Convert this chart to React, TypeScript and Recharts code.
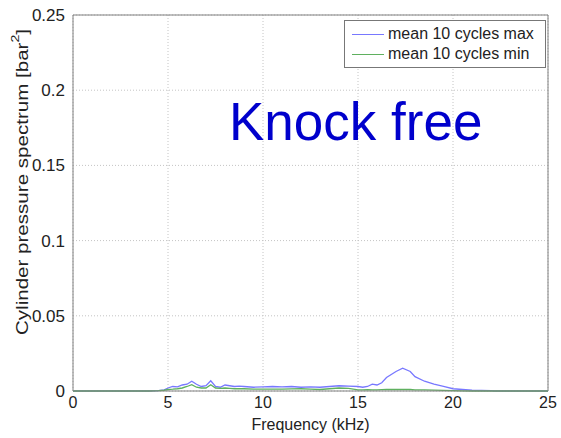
import { LineChart, Line, XAxis, YAxis, CartesianGrid, ReferenceLine } from "recharts"

const freqs = [
  0, 4, 4.5, 4.8, 5, 5.25, 5.5, 5.75, 6, 6.25, 6.5, 6.75, 7, 7.25, 7.5, 7.75, 8, 8.25, 8.5, 8.75, 9, 9.5, 10,
  10.5, 11, 11.5, 12, 12.5, 13, 13.5, 14, 14.5, 15, 15.25, 15.5, 15.75, 16, 16.25, 16.5, 16.75, 17, 17.35,
  17.75, 18, 18.5, 19, 19.5, 20, 20.5, 21, 22, 22.2, 25,
]

const maxVals = [
  0, 0, 0.0003, 0.0008, 0.002, 0.003, 0.0028, 0.004, 0.0045, 0.0065, 0.0045, 0.003, 0.0035, 0.0068, 0.003,
  0.0025, 0.004, 0.0035, 0.003, 0.0032, 0.003, 0.0025, 0.0028, 0.003, 0.0028, 0.003, 0.0025, 0.0028, 0.0025,
  0.003, 0.0035, 0.0032, 0.003, 0.0025, 0.003, 0.0045, 0.004, 0.0055, 0.009, 0.011, 0.013, 0.0152, 0.013,
  0.0095, 0.0065, 0.0045, 0.003, 0.0015, 0.001, 0.0005, 0.0003, 0, 0,
]

const minVals = [
  0, 0, 0.0002, 0.0005, 0.001, 0.0012, 0.0015, 0.002, 0.003, 0.0042, 0.0025, 0.002, 0.002, 0.0042, 0.002,
  0.0018, 0.002, 0.0018, 0.0015, 0.0016, 0.0015, 0.0013, 0.0012, 0.0012, 0.0012, 0.0014, 0.0015, 0.0012, 0.001,
  0.0015, 0.002, 0.0018, 0.0008, 0.0008, 0.0009, 0.0008, 0.0008, 0.0009, 0.001, 0.001, 0.001, 0.0011, 0.001,
  0.0008, 0.0007, 0.0006, 0.0004, 0.0002, 0.0001, 0, 0, 0, 0,
]

const xTicks = [0, 5, 10, 15, 20, 25]
const yTicks = [0, 0.05, 0.1, 0.15, 0.2, 0.25]

const series = [
  { key: "max", name: "mean 10 cycles max", color: "#7878ff" },
  { key: "min", name: "mean 10 cycles min", color: "#5fb05f" },
]

const data = freqs.map((f, i) => ({ f, max: maxVals[i], min: minVals[i] }))

const font = "'Liberation Sans', Arial, sans-serif"

const YLabel = () => (
  <text
    x={22}
    y={182}
    transform="rotate(-90 22 182)"
    textAnchor="middle"
    dominantBaseline="central"
    fontSize={16}
    fontFamily={font}
    fill="#222"
    textLength={306}
    lengthAdjust="spacingAndGlyphs"
  >
    Cylinder pressure spectrum [bar<tspan dy={-7} fontSize={11}>2</tspan>
    <tspan dy={7}>]</tspan>
  </text>
)

export default function App() {
  return (
    <div style={{ position: "absolute", top: 0, left: 0, width: 561, height: 438, background: "#fff" }}>
      <LineChart width={561} height={438} data={data} margin={{ top: 15, right: 13, bottom: 0, left: 0 }}>
        <CartesianGrid stroke="#c4c4c4" strokeDasharray="1 2" />
        <XAxis
          dataKey="f"
          type="number"
          domain={[0, 25]}
          ticks={xTicks}
          height={47}
          tickLine={false}
          axisLine={{ stroke: "#808080" }}
          tick={{ fontSize: 16, fontFamily: font, fill: "#222" }}
          tickMargin={0}
          label={{ value: "Frequency (kHz)", position: "insideBottom", offset: 8, fontSize: 16, fontFamily: font, fill: "#222" }}
        />
        <YAxis
          type="number"
          domain={[0, 0.25]}
          ticks={yTicks}
          width={73}
          tickLine={false}
          axisLine={{ stroke: "#808080" }}
          tick={{ fontSize: 17, fontFamily: font, fill: "#222" }}
          tickMargin={2}
          label={<YLabel />}
        />
        <ReferenceLine y={0.25} stroke="#808080" />
        <ReferenceLine x={25} stroke="#808080" />
        {series.map((s) => (
          <Line
            key={s.key}
            dataKey={s.key}
            name={s.name}
            stroke={s.color}
            strokeWidth={1.3}
            dot={false}
            isAnimationActive={false}
          />
        ))}
      </LineChart>
      <svg width={561} height={438} style={{ position: "absolute", top: 0, left: 0, pointerEvents: "none" }}>
        <text x={229} y={140} fontSize={53} fontFamily={font} fill="#0000cc">
          Knock free
        </text>
      </svg>
      <div
        style={{
          position: "absolute",
          top: 20,
          left: 344,
          width: 200,
          border: "1px solid #777",
          background: "#fff",
          padding: "3px 0",
          fontFamily: font,
          fontSize: 16,
          color: "#222",
        }}
      >
        {series.map((s) => (
          <div key={s.key} style={{ display: "flex", alignItems: "center", height: 20 }}>
            <span style={{ display: "inline-block", width: 32, height: 1, background: s.color, margin: "0 4px 0 7px" }} />
            {s.name}
          </div>
        ))}
      </div>
    </div>
  )
}
